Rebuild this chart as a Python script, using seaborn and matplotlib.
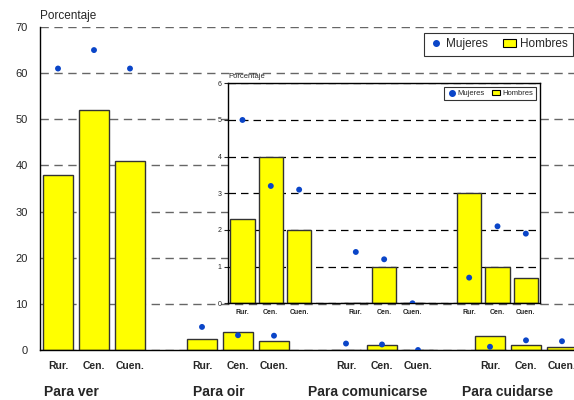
import pandas as pd
import seaborn as sns
import matplotlib.pyplot as plt
from matplotlib.lines import Line2D
from matplotlib.patches import Patch

# Data
groups = ['Para ver', 'Para oir', 'Para comunicarse', 'Para cuidarse']
areas = ['Rur.', 'Cen.', 'Cuen.']
hombres = [38, 52, 41, 2.3, 4.0, 2.0, 0, 1.0, 0, 3.0, 1.0, 0.7]
mujeres = [61, 65, 61, 5.0, 3.2, 3.1, 1.4, 1.2, 0.0, 0.7, 2.1, 1.9]

YELLOW = '#ffff00'
BLUE = '#0a45c8'

sns.set_style('white')
plt.rcParams['font.family'] = ['Liberation Sans', 'DejaVu Sans']

rows = []
for g, grp in enumerate(groups):
    for a, area in enumerate(areas):
        i = g * 3 + a
        rows.append({'grupo': grp, 'area': area, 'g': g,
                     'pos': g * 4 + a, 'Hombres': hombres[i], 'Mujeres': mujeres[i]})
df = pd.DataFrame(rows)


def draw(ax, data, dot_size):
    sns.barplot(data=data, x='pos', y='Hombres', native_scale=True, width=0.86,
                color=YELLOW, saturation=1, edgecolor='#333333', linewidth=1.0,
                ax=ax, zorder=2)
    sns.scatterplot(data=data, x='pos', y='Mujeres', color=BLUE, s=dot_size,
                    edgecolor='none', ax=ax, zorder=3, legend=False)
    ax.set_xlabel('')
    ax.set_ylabel('')


fig = plt.figure(figsize=(5.74, 4.0), dpi=100)

# main chart
ax = fig.add_axes([40 / 574, 50 / 400, 540 / 574, 323 / 400])
draw(ax, df, 18)
ax.set_xlim(-0.5, 14.5)
ax.set_ylim(0, 70)
ax.set_yticks(range(0, 71, 10))
ax.yaxis.grid(True, color='#666666', linestyle=(0, (6, 4)), linewidth=1.0, zorder=0)
ax.set_axisbelow(True)
for s in ['top', 'right']:
    ax.spines[s].set_visible(False)
for s in ['left', 'bottom']:
    ax.spines[s].set_color('black')
    ax.spines[s].set_linewidth(1.0)
ax.set_xticks(df['pos'])
ax.set_xticklabels(df['area'], fontsize=7.5, fontweight='bold')
ax.tick_params(axis='x', length=0, pad=8)
ax.tick_params(axis='y', length=0, pad=9, labelsize=8)

fig.text(40 / 574, 1 - 16 / 400, 'Porcentaje', fontsize=8.5, va='center', ha='left')
for grp, xc in zip(groups, [0.37, 4.48, 8.59, 12.48]):
    ax.text(xc, -0.131, grp, transform=ax.get_xaxis_transform(), ha='center',
            va='center', fontsize=10, fontweight='bold')

handles = [Line2D([], [], marker='o', color=BLUE, linestyle='none', markersize=4),
           Patch(facecolor=YELLOW, edgecolor='black', linewidth=0.8)]
leg = fig.legend(handles, ['Mujeres', 'Hombres'], loc='upper right',
                 bbox_to_anchor=(573 / 574, 1 - 33 / 400), ncol=2, fontsize=8.5,
                 frameon=True, fancybox=False, borderpad=0.45, handlelength=1.1,
                 handletextpad=0.3, columnspacing=1.3, borderaxespad=0)
leg.get_frame().set_edgecolor('black')
leg.get_frame().set_linewidth(0.8)

# inset chart
sub = df[df['g'] > 0].copy()
sub['pos'] = sub['pos'] - 4
ins = fig.add_axes([228.3 / 574, 1 - 303.3 / 400, 311.7 / 574, 220 / 400])
ins.set_facecolor('white')
draw(ins, sub, 18)
ins.set_xlim(-0.5, 10.5)
ins.set_ylim(0, 6)
ins.set_yticks(range(0, 7))
ins.yaxis.grid(True, color='black', linestyle=(0, (6, 4)), linewidth=0.9, zorder=0)
ins.set_axisbelow(True)
for s in ins.spines.values():
    s.set_visible(True)
    s.set_color('black')
    s.set_linewidth(1.0)
ins.set_xticks(sub['pos'])
ins.set_xticklabels(sub['area'], fontsize=5, fontweight='bold')
ins.tick_params(axis='x', length=0, pad=4)
ins.tick_params(axis='y', direction='out', length=3, width=0.8, pad=2,
                labelsize=5, left=True)
fig.text(228.5 / 574, 1 - 76 / 400, 'Porcentaje', fontsize=5.5, va='center', ha='left')

leg2 = ins.legend(handles, ['Mujeres', 'Hombres'], loc='upper right',
                  bbox_to_anchor=(536 / 574, 1 - 87 / 400),
                  bbox_transform=fig.transFigure, ncol=2, fontsize=5.5,
                  frameon=True, fancybox=False, borderpad=0.4, handlelength=1.1,
                  handletextpad=0.25, columnspacing=0.9, borderaxespad=0,
                  markerscale=1.0)
leg2.get_frame().set_edgecolor('black')
leg2.get_frame().set_linewidth(0.8)

fig.savefig('out.png', dpi=100)
